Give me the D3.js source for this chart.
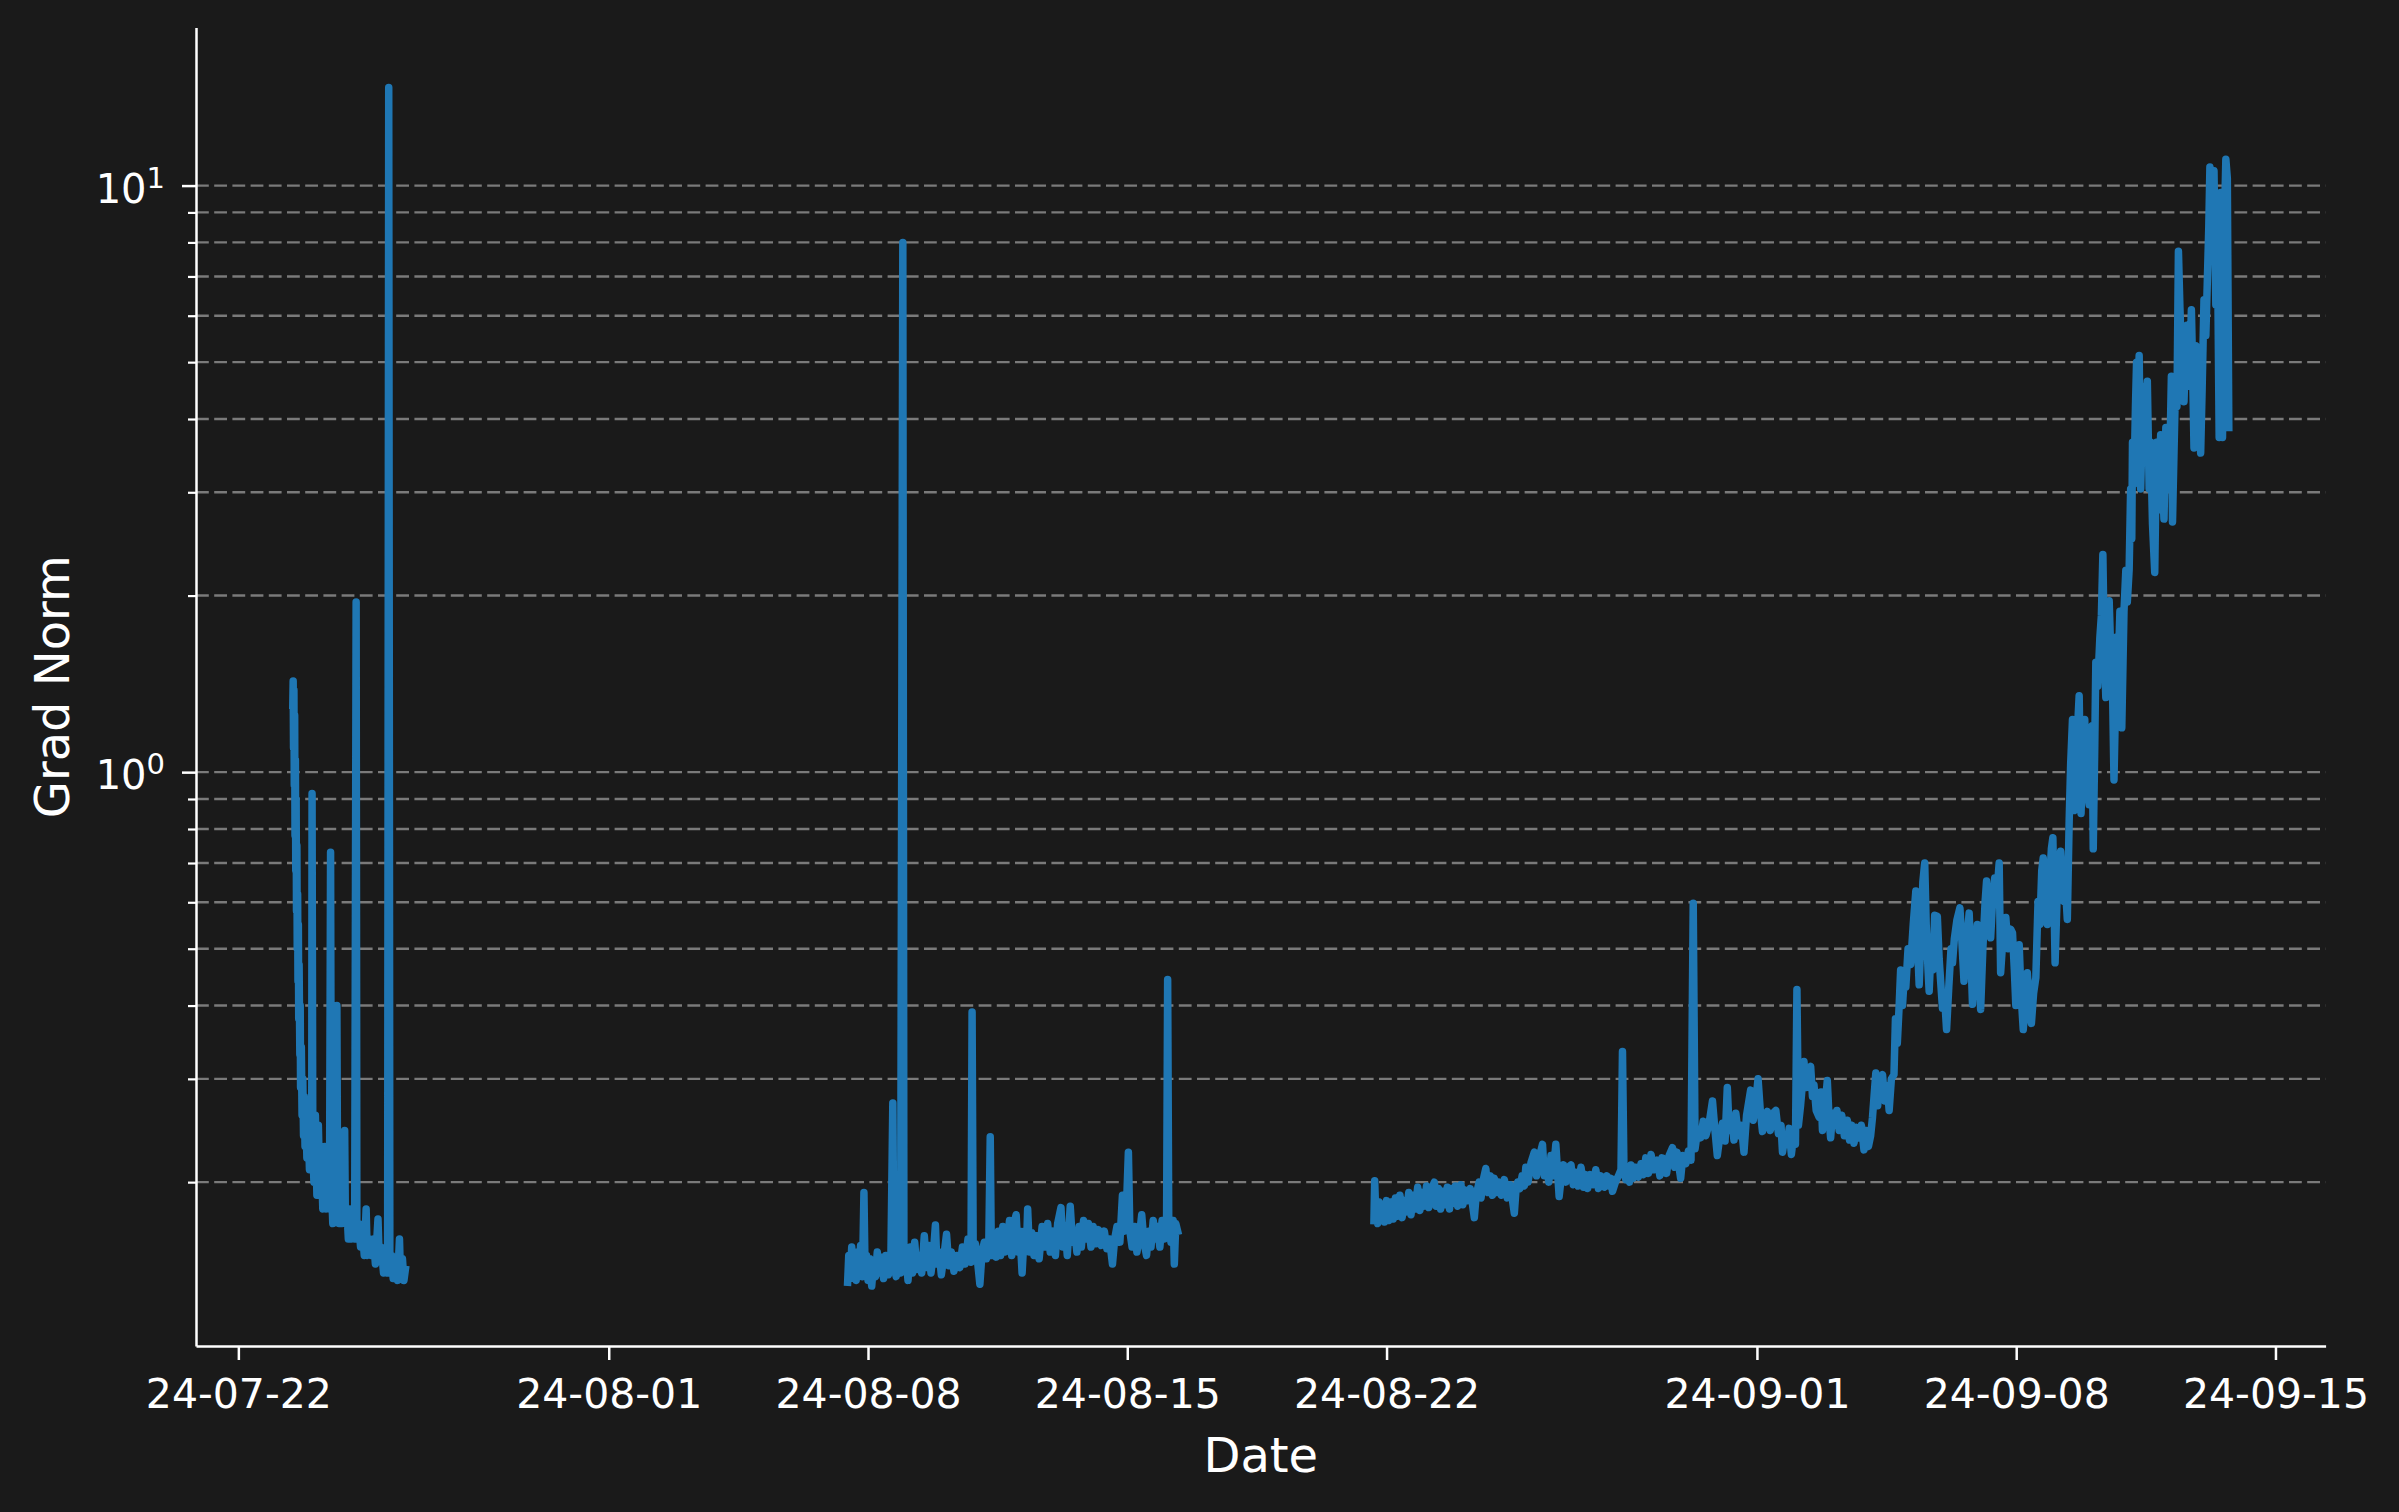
<!DOCTYPE html>
<html>
<head>
<meta charset="utf-8">
<script src="https://cdn.jsdelivr.net/npm/d3@7"></script>
<style>
  html, body { margin: 0; padding: 0; background: #1a1a1a; }
  svg { display: block; }
  text { font-family: "DejaVu Sans", sans-serif; fill: #ffffff; }
</style>
</head>
<body>
<svg id="chart" width="2399" height="1512"></svg>
<script>
// ---------------- DATA ----------------
// Each point: [days since 2024-07-22 00:00 UTC, grad norm]
const baseDate = "2024-07-22";

const segment1 = [
  [1.47,1.30],[1.48,1.43],[1.49,1.10],[1.50,1.38],[1.51,0.95],[1.52,1.25],[1.53,0.78],[1.54,1.05],
  [1.55,0.68],[1.56,0.90],[1.57,0.58],[1.58,0.75],[1.59,0.50],[1.60,0.62],[1.61,0.44],[1.62,0.55],
  [1.63,0.38],[1.64,0.47],[1.66,0.33],[1.67,0.40],[1.68,0.29],[1.70,0.34],[1.72,0.26],[1.74,0.30],
  [1.76,0.24],[1.78,0.28],[1.80,0.23],[1.82,0.27],[1.85,0.22],[1.88,0.26],[1.92,0.21],[1.96,0.25],
  [1.98,0.21],[1.99,0.92],[2.01,0.23],[2.04,0.20],[2.08,0.26],[2.12,0.19],[2.16,0.25],[2.20,0.19],
  [2.24,0.22],[2.28,0.18],[2.33,0.23],[2.37,0.18],[2.42,0.22],[2.46,0.18],[2.49,0.73],[2.51,0.20],
  [2.55,0.17],[2.60,0.22],[2.64,0.18],[2.66,0.40],[2.68,0.19],[2.72,0.17],[2.76,0.20],[2.80,0.17],
  [2.84,0.19],[2.87,0.245],[2.89,0.17],[2.93,0.18],[2.97,0.16],[3.01,0.18],[3.05,0.16],[3.10,0.175],
  [3.14,0.16],[3.18,1.95],[3.20,0.16],[3.25,0.17],[3.30,0.155],[3.35,0.165],[3.40,0.15],[3.45,0.18],
  [3.48,0.15],[3.53,0.16],[3.59,0.15],[3.65,0.16],[3.70,0.145],[3.77,0.173],[3.80,0.15],[3.86,0.155],
  [3.92,0.14],[3.98,0.15],[4.03,0.14],[4.06,14.7],[4.09,0.14],[4.14,0.15],[4.18,0.137],[4.24,0.145],
  [4.30,0.136],[4.35,0.16],[4.38,0.137],[4.43,0.148],[4.47,0.136],[4.51,0.142]
];

const segment2 = [
  [16.45,0.135],[16.48,0.150],[16.52,0.137],[16.56,0.155],[16.60,0.138],[16.64,0.150],[16.68,0.136],
  [16.72,0.152],[16.76,0.140],[16.80,0.156],[16.85,0.138],[16.89,0.192],[16.92,0.142],[16.96,0.150],
  [17.00,0.136],[17.05,0.148],[17.10,0.133],[17.15,0.145],[17.20,0.138],[17.25,0.152],[17.30,0.140],
  [17.36,0.149],[17.42,0.137],[17.48,0.150],[17.55,0.139],[17.62,0.152],[17.67,0.273],[17.70,0.145],
  [17.76,0.138],[17.82,0.150],[17.88,0.140],[17.94,8.0],[17.97,0.142],[18.02,0.152],[18.08,0.136],
  [18.14,0.155],[18.20,0.140],[18.26,0.158],[18.32,0.142],[18.38,0.150],[18.45,0.140],[18.52,0.162],
  [18.58,0.143],[18.64,0.156],[18.70,0.140],[18.76,0.150],[18.82,0.169],[18.86,0.145],[18.92,0.152],
  [18.98,0.139],[19.05,0.150],[19.12,0.163],[19.18,0.144],[19.25,0.152],[19.32,0.141],[19.40,0.150],
  [19.48,0.143],[19.55,0.155],[19.62,0.145],[19.70,0.160],[19.78,0.146],[19.81,0.39],[19.84,0.150],
  [19.90,0.157],[19.96,0.146],[20.02,0.134],[20.08,0.152],[20.14,0.158],[20.20,0.148],[20.26,0.155],
  [20.30,0.239],[20.33,0.150],[20.40,0.160],[20.46,0.149],[20.52,0.165],[20.58,0.150],[20.64,0.168],
  [20.70,0.152],[20.76,0.158],[20.82,0.172],[20.88,0.150],[20.94,0.170],[21.00,0.176],[21.05,0.152],
  [21.10,0.165],[21.16,0.140],[21.22,0.165],[21.28,0.155],[21.31,0.180],[21.36,0.152],[21.42,0.164],
  [21.48,0.150],[21.55,0.162],[21.62,0.148],[21.70,0.168],[21.78,0.155],[21.85,0.170],[21.92,0.152],
  [22.00,0.165],[22.06,0.150],[22.12,0.170],[22.21,0.181],[22.26,0.155],[22.32,0.168],[22.38,0.150],
  [22.46,0.182],[22.52,0.158],[22.58,0.165],[22.64,0.152],[22.70,0.168],[22.76,0.155],[22.82,0.172],
  [22.89,0.160],[22.95,0.170],[23.02,0.155],[23.08,0.168],[23.15,0.157],[23.22,0.166],[23.30,0.156],
  [23.38,0.165],[23.45,0.154],[23.52,0.160],[23.60,0.145],[23.66,0.160],[23.72,0.168],[23.80,0.158],
  [23.87,0.190],[23.92,0.165],[23.97,0.175],[24.03,0.225],[24.07,0.165],[24.13,0.155],[24.20,0.168],
  [24.26,0.152],[24.32,0.160],[24.39,0.176],[24.45,0.158],[24.52,0.150],[24.58,0.165],[24.64,0.155],
  [24.70,0.172],[24.76,0.160],[24.82,0.168],[24.88,0.155],[24.94,0.172],[25.00,0.160],[25.06,0.165],
  [25.09,0.443],[25.12,0.168],[25.18,0.158],[25.24,0.172],[25.27,0.145],[25.31,0.170],[25.36,0.165]
];

const segment3 = [
  [30.66,0.172],[30.68,0.201],[30.71,0.175],[30.76,0.170],[30.80,0.185],[30.85,0.172],[30.90,0.183],
  [30.94,0.171],[31.00,0.186],[31.06,0.172],[31.12,0.185],[31.18,0.173],[31.24,0.188],[31.30,0.175],
  [31.36,0.190],[31.42,0.174],[31.48,0.186],[31.54,0.178],[31.60,0.192],[31.66,0.176],[31.72,0.190],
  [31.78,0.180],[31.84,0.196],[31.90,0.179],[31.96,0.192],[32.02,0.182],[32.08,0.197],[32.14,0.181],
  [32.20,0.194],[32.29,0.200],[32.34,0.182],[32.40,0.195],[32.46,0.180],[32.52,0.193],[32.58,0.183],
  [32.64,0.196],[32.70,0.180],[32.74,0.195],[32.80,0.184],[32.86,0.197],[32.92,0.182],[33.01,0.198],
  [33.06,0.183],[33.12,0.194],[33.19,0.186],[33.26,0.195],[33.37,0.174],[33.42,0.190],[33.50,0.200],
  [33.55,0.188],[33.62,0.203],[33.68,0.211],[33.74,0.192],[33.80,0.205],[33.86,0.190],[33.91,0.203],
  [33.98,0.192],[34.04,0.200],[34.10,0.190],[34.18,0.202],[34.26,0.188],[34.34,0.198],[34.45,0.177],
  [34.50,0.196],[34.54,0.200],[34.60,0.195],[34.66,0.205],[34.72,0.197],[34.76,0.212],[34.82,0.200],
  [34.90,0.216],[34.99,0.225],[35.05,0.205],[35.12,0.220],[35.21,0.232],[35.26,0.205],[35.32,0.215],
  [35.38,0.200],[35.44,0.222],[35.50,0.205],[35.57,0.232],[35.66,0.189],[35.72,0.205],[35.78,0.214],
  [35.84,0.200],[35.90,0.212],[35.98,0.214],[36.04,0.198],[36.10,0.208],[36.17,0.197],[36.25,0.212],
  [36.32,0.196],[36.38,0.206],[36.43,0.195],[36.50,0.206],[36.58,0.198],[36.65,0.210],[36.72,0.195],
  [36.79,0.205],[36.88,0.196],[36.95,0.205],[37.02,0.197],[37.06,0.203],[37.10,0.193],[37.18,0.200],
  [37.26,0.205],[37.33,0.210],[37.37,0.334],[37.41,0.210],[37.46,0.202],[37.51,0.208],[37.56,0.200],
  [37.60,0.214],[37.66,0.203],[37.72,0.212],[37.80,0.204],[37.87,0.215],[37.94,0.206],[38.00,0.220],
  [38.07,0.207],[38.14,0.223],[38.22,0.210],[38.31,0.218],[38.38,0.205],[38.44,0.220],[38.50,0.219],
  [38.56,0.207],[38.63,0.222],[38.72,0.229],[38.78,0.212],[38.84,0.225],[38.94,0.203],[39.00,0.222],
  [39.08,0.215],[39.15,0.226],[39.22,0.218],[39.28,0.598],[39.33,0.228],[39.40,0.246],[39.48,0.238],
  [39.55,0.254],[39.62,0.240],[39.70,0.250],[39.80,0.275],[39.86,0.248],[39.93,0.222],[40.00,0.240],
  [40.07,0.252],[40.14,0.235],[40.20,0.290],[40.25,0.245],[40.32,0.255],[40.38,0.236],[40.43,0.262],
  [40.50,0.240],[40.58,0.250],[40.65,0.225],[40.72,0.260],[40.83,0.287],[40.90,0.255],[40.97,0.275],
  [41.03,0.300],[41.09,0.265],[41.15,0.244],[41.22,0.258],[41.28,0.264],[41.36,0.245],[41.43,0.262],
  [41.51,0.265],[41.58,0.242],[41.65,0.250],[41.69,0.225],[41.76,0.240],[41.82,0.232],[41.87,0.247],
  [41.93,0.223],[41.99,0.240],[42.04,0.232],[42.08,0.426],[42.12,0.250],[42.18,0.271],[42.24,0.300],
  [42.27,0.321],[42.33,0.290],[42.38,0.310],[42.45,0.315],[42.50,0.280],[42.54,0.293],[42.60,0.265],
  [42.68,0.258],[42.73,0.285],[42.77,0.245],[42.84,0.270],[42.90,0.298],[42.95,0.255],[42.99,0.238],
  [43.04,0.262],[43.10,0.250],[43.16,0.265],[43.22,0.245],[43.29,0.260],[43.36,0.240],[43.44,0.255],
  [43.50,0.236],[43.56,0.250],[43.62,0.233],[43.69,0.248],[43.76,0.238],[43.82,0.250],[43.89,0.227],
  [43.95,0.245],[44.01,0.230],[44.07,0.240],[44.12,0.258],[44.18,0.290],[44.21,0.307],[44.26,0.270],
  [44.32,0.300],[44.39,0.305],[44.45,0.275],[44.52,0.292],[44.57,0.265],[44.63,0.300],[44.70,0.305],
  [44.74,0.380],[44.79,0.345],[44.84,0.40],[44.88,0.46],[44.93,0.40],[44.98,0.45],[45.02,0.43],
  [45.08,0.50],[45.15,0.47],[45.22,0.55],[45.29,0.627],[45.33,0.52],[45.38,0.434],[45.44,0.55],
  [45.48,0.65],[45.53,0.70],[45.57,0.55],[45.62,0.46],[45.65,0.423],[45.70,0.50],[45.75,0.46],
  [45.80,0.57],[45.87,0.568],[45.92,0.48],[45.96,0.44],[46.01,0.396],[46.06,0.42],[46.12,0.364],
  [46.18,0.43],[46.24,0.50],[46.28,0.473],[46.33,0.52],[46.40,0.56],[46.48,0.587],[46.53,0.52],
  [46.59,0.44],[46.65,0.50],[46.73,0.575],[46.78,0.48],[46.82,0.402],[46.88,0.47],[46.95,0.55],
  [47.00,0.46],[47.04,0.394],[47.10,0.50],[47.16,0.60],[47.20,0.652],[47.26,0.56],[47.31,0.522],
  [47.36,0.60],[47.42,0.66],[47.48,0.62],[47.54,0.70],[47.58,0.455],[47.64,0.52],[47.72,0.565],
  [47.78,0.50],[47.85,0.54],[47.90,0.532],[47.95,0.46],[47.99,0.40],[48.04,0.46],[48.08,0.508],
  [48.13,0.42],[48.19,0.364],[48.24,0.40],[48.30,0.455],[48.36,0.40],[48.41,0.373],[48.47,0.42],
  [48.53,0.446],[48.59,0.602],[48.64,0.55],[48.69,0.68],[48.73,0.714],[48.79,0.60],[48.84,0.55],
  [48.90,0.65],[48.95,0.74],[48.99,0.773],[49.05,0.473],[49.10,0.60],[49.15,0.70],[49.20,0.733],
  [49.25,0.65],[49.29,0.602],[49.34,0.62],[49.38,0.561],[49.43,0.825],[49.47,1.03],[49.52,1.23],
  [49.56,0.86],[49.61,1.10],[49.66,1.20],[49.70,1.35],[49.75,0.85],[49.80,1.05],[49.85,1.23],
  [49.90,0.95],[49.97,0.88],[50.02,1.10],[50.05,1.20],[50.08,0.74],[50.12,1.10],[50.15,1.54],
  [50.20,1.40],[50.26,1.70],[50.30,1.85],[50.34,2.35],[50.38,1.60],[50.42,1.34],[50.47,1.70],
  [50.51,1.96],[50.56,1.54],[50.60,1.40],[50.64,0.97],[50.68,1.30],[50.71,1.70],[50.76,1.55],
  [50.80,1.88],[50.85,1.19],[50.91,1.88],[50.96,2.21],[51.00,1.95],[51.05,2.22],[51.09,3.04],
  [51.12,2.50],[51.14,3.65],[51.18,3.10],[51.22,4.20],[51.25,5.00],[51.28,4.20],[51.32,5.13],
  [51.36,3.04],[51.40,3.80],[51.45,4.55],[51.50,3.80],[51.54,4.64],[51.59,3.04],[51.63,3.65],
  [51.68,2.65],[51.74,2.19],[51.79,3.65],[51.84,2.80],[51.90,3.76],[51.95,3.10],[51.99,2.70],
  [52.04,3.87],[52.10,3.04],[52.15,3.50],[52.19,4.73],[52.22,2.67],[52.26,3.50],[52.30,4.55],
  [52.34,4.20],[52.38,7.73],[52.42,6.20],[52.44,5.67],[52.49,4.80],[52.53,4.28],[52.57,5.20],
  [52.61,5.78],[52.67,4.55],[52.73,6.14],[52.76,5.00],[52.80,3.57],[52.85,5.33],[52.90,4.73],
  [52.95,4.00],[52.98,3.50],[53.02,4.50],[53.07,6.39],[53.12,5.55],[53.16,6.86],[53.20,8.50],
  [53.23,10.76],[53.27,10.20],[53.31,9.40],[53.34,10.60],[53.39,6.26],[53.43,8.50],[53.48,3.72],
  [53.52,9.73],[53.57,3.72],[53.61,8.00],[53.66,11.09],[53.70,10.30],[53.74,3.87]
];

const xTickDates = ["2024-07-22","2024-08-01","2024-08-08","2024-08-15","2024-08-22","2024-09-01","2024-09-08","2024-09-15"];
const yMajorTicks = [1, 10];
const yMajorExponents = ["0", "1"];
const yMinorTicks = [0.2,0.3,0.4,0.5,0.6,0.7,0.8,0.9,2,3,4,5,6,7,8,9];
const xLabel = "Date";
const yLabel = "Grad Norm";

// ---------------- LAYOUT ----------------
const W = 2399, H = 1512;
const plot = { left: 196, right: 2325.6, top: 27.5, bottom: 1346 };
const svg = d3.select("#chart");
svg.append("rect").attr("width", W).attr("height", H).attr("fill", "#1a1a1a");

const t0 = new Date(baseDate + "T00:00:00Z").getTime();
const toDate = d => new Date(t0 + d * 864e5);
const segments = [segment1, segment2, segment3];
const all = segments.flat();

// x domain with 5% margin (like matplotlib autoscale)
const xe = d3.extent(all, d => d[0]);
const xp = (xe[1] - xe[0]) * 0.05;
const x = d3.scaleUtc().domain([toDate(xe[0] - xp), toDate(xe[1] + xp)]).range([plot.left, plot.right]);

// y log domain with 5% margin in log space
const ye = d3.extent(all, d => Math.log10(d[1]));
const yp = (ye[1] - ye[0]) * 0.05;
const y = d3.scaleLog().domain([10 ** (ye[0] - yp), 10 ** (ye[1] + yp)]).range([plot.bottom, plot.top]);

// ---------------- GRID ----------------
const yDom = y.domain();
const gridVals = yMajorTicks.concat(yMinorTicks).filter(v => v >= yDom[0] && v <= yDom[1]);
svg.append("g").selectAll("line").data(gridVals).join("line")
  .attr("x1", plot.left).attr("x2", plot.right)
  .attr("y1", d => y(d)).attr("y2", d => y(d))
  .attr("stroke", "#7a7a7a").attr("stroke-width", 2.4)
  .attr("stroke-dasharray", "12.8,5.4");

// ---------------- LINE ----------------
const line = d3.line().x(d => x(toDate(d[0]))).y(d => y(d[1]));
svg.append("g").selectAll("path").data(segments).join("path")
  .attr("d", line)
  .attr("fill", "none")
  .attr("stroke", "#1f77b4")
  .attr("stroke-width", 7.5)
  .attr("stroke-linejoin", "round")
  .attr("stroke-linecap", "square");

// ---------------- AXES ----------------
const axisColor = "#ffffff";
const xAxis = d3.axisBottom(x)
  .tickValues(xTickDates.map(s => new Date(s + "T00:00:00Z")))
  .tickFormat(d3.utcFormat("%y-%m-%d"))
  .tickSize(14).tickSizeOuter(0);
const gx = svg.append("g").attr("transform", `translate(0,${plot.bottom})`).call(xAxis);
gx.select(".domain").attr("stroke", axisColor).attr("stroke-width", 2.5);
gx.selectAll(".tick line").attr("stroke", axisColor).attr("stroke-width", 2.5);
gx.selectAll(".tick text")
  .attr("y", 62).attr("dy", null)
  .attr("fill", "#fff").attr("font-size", 41)
  .attr("font-family", "DejaVu Sans");

const yAxisMinor = d3.axisLeft(y).tickValues(yMinorTicks.filter(v => v >= yDom[0] && v <= yDom[1]))
  .tickFormat("").tickSize(8).tickSizeOuter(0);
const gyMinor = svg.append("g").attr("transform", `translate(${plot.left},0)`).call(yAxisMinor);
gyMinor.select(".domain").remove();
gyMinor.selectAll(".tick line").attr("stroke", axisColor).attr("stroke-width", 2.2);

const yAxis = d3.axisLeft(y).tickValues(yMajorTicks).tickFormat("").tickSize(14).tickSizeOuter(0);
const gy = svg.append("g").attr("transform", `translate(${plot.left},0)`).call(yAxis);
gy.select(".domain").attr("stroke", axisColor).attr("stroke-width", 2.5);
gy.selectAll(".tick line").attr("stroke", axisColor).attr("stroke-width", 2.5);

// major labels as 10^n
const yLab = svg.append("g");
yMajorTicks.forEach((v, i) => {
  const t = yLab.append("text")
    .attr("x", plot.left - 31)
    .attr("y", y(v) + 17)
    .attr("text-anchor", "end")
    .attr("font-size", 40);
  t.append("tspan").text("10");
  t.append("tspan").attr("font-size", 29).attr("dy", -15).text(yMajorExponents[i]);
});

// ---------------- LABELS ----------------
svg.append("text")
  .attr("x", (plot.left + plot.right) / 2)
  .attr("y", 1472)
  .attr("text-anchor", "middle")
  .attr("font-size", 48)
  .text(xLabel);

svg.append("text")
  .attr("transform", `translate(69,${(plot.top + plot.bottom) / 2}) rotate(-90)`)
  .attr("text-anchor", "middle")
  .attr("font-size", 48)
  .text(yLabel);
</script>
</body>
</html>
